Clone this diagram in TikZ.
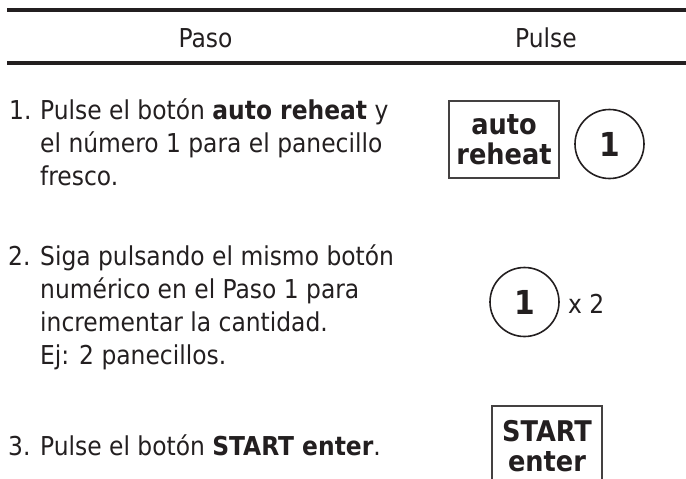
\documentclass[tikz,border=0pt]{standalone}
\usepackage{fontspec}
\setmainfont{DejaVu Sans Condensed}
\definecolor{ink}{HTML}{231F20}
\tikzstyle{every node}=[inner sep=0pt,text=ink]
\tikzstyle{body}=[font=\fontsize{26}{33}\selectfont]
\tikzstyle{steptext}=[body,anchor=base west,align=left]
\tikzstyle{keybox}=[draw=ink!85,line width=1.2pt,minimum width=110pt,minimum height=77pt,align=center,font=\fontsize{28.5}{30}\selectfont\bfseries]
\tikzstyle{keycircle}=[draw=ink,circle,line width=1.6pt,minimum size=69pt,font=\fontsize{33}{33}\selectfont\bfseries]
\begin{document}
\begin{tikzpicture}[x=1pt,y=-1pt]
\useasboundingbox (0,0) rectangle (686,479);
\draw[ink, line width=3.3pt] (7,10) -- (686,10);
\draw[ink, line width=3.3pt] (7,63) -- (686,63);
\node[body,anchor=base] (paso) at (205.5,47) {Paso};
\node[body,anchor=base] (pulse) at (546,47) {Pulse};
% paso 1 (base = last line)
\node[steptext] (n1) at (9,119) {1.};
\node[steptext] (s1) at (40,185) {Pulse el botón \textbf{auto reheat} y\\el número 1 para el panecillo\\fresco.};
\node[keybox] (auto) at (504,139.5) {auto\\reheat};
\node[keycircle] (one) at (609.5,144) {1};
% paso 2
\node[steptext] (n2) at (8,265) {2.};
\node[steptext] (s2) at (40,364) {Siga pulsando el mismo botón\\numérico en el Paso 1 para\\incrementar la cantidad.\\Ej: 2 panecillos.};
\node[keycircle] (onetwo) at (524.5,302) {1};
\node[steptext] (times) at (568,313) {x 2};
% paso 3
\node[steptext] (n3) at (8,455) {3.};
\node[steptext] (s3) at (40,455) {Pulse el botón \textbf{START enter}.};
\node[keybox,minimum height=80pt] (start) at (547,446) {START\\enter};
\end{tikzpicture}
\end{document}
